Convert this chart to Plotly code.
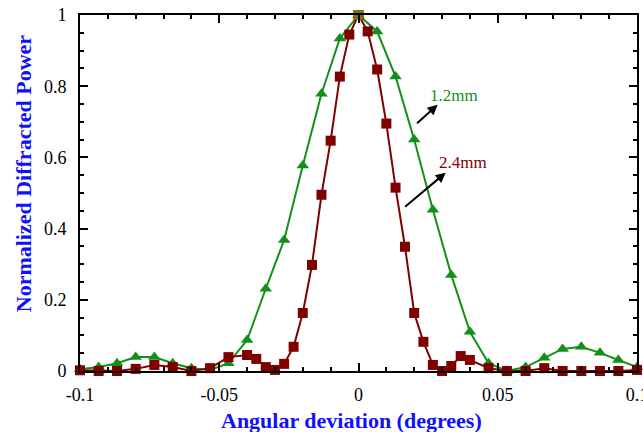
import plotly.graph_objects as go

# angular deviation (degrees)
x_red = [-0.1, -0.0933, -0.0867, -0.08, -0.0733, -0.0667, -0.06, -0.0533, -0.0467,
         -0.04, -0.0367, -0.0333, -0.03, -0.0267, -0.0233, -0.02, -0.0167, -0.0133,
         -0.01, -0.0067, -0.0033, 0.0, 0.0033, 0.0067, 0.01, 0.0133, 0.0167, 0.02,
         0.0233, 0.0267, 0.03, 0.0333, 0.0367, 0.04, 0.0467, 0.0533, 0.06, 0.0667,
         0.0733, 0.08, 0.0867, 0.0933, 0.1]
y_red = [0.002, 0.0, 0.0, 0.006, 0.017, 0.011, 0.0, 0.008, 0.039,
         0.045, 0.034, 0.011, 0.003, 0.020, 0.068, 0.163, 0.298, 0.495,
         0.647, 0.827, 0.945, 1.0, 0.954, 0.847, 0.695, 0.515, 0.349, 0.163,
         0.082, 0.017, 0.0, 0.014, 0.042, 0.031, 0.008, 0.0, 0.0, 0.008,
         0.0, 0.0, 0.0, 0.0, 0.003]

x_green = [-0.1, -0.0933, -0.0867, -0.08, -0.0733, -0.0667, -0.06, -0.0533, -0.0467,
           -0.04, -0.0333, -0.0267, -0.02, -0.0133, -0.0067, 0.0, 0.0067, 0.0133,
           0.02, 0.0267, 0.0333, 0.04, 0.0467, 0.0533, 0.06, 0.0667, 0.0733, 0.08,
           0.0867, 0.0933, 0.1]
y_green = [0.005, 0.011, 0.022, 0.039, 0.039, 0.022, 0.008, 0.003, 0.022,
           0.087, 0.231, 0.368, 0.577, 0.779, 0.934, 1.0, 0.954, 0.827,
           0.650, 0.453, 0.270, 0.110, 0.022, 0.0, 0.011, 0.037, 0.062, 0.068,
           0.051, 0.031, 0.011]

peak_x = [0.0]
peak_y = [1.0]

x_tickvals = [-0.1, -0.05, 0, 0.05, 0.1]
x_ticktext = ["-0.1", "-0.05", "0", "0.05", "0.1"]
y_tickvals = [0, 0.2, 0.4, 0.6, 0.8, 1]
y_ticktext = ["0", "0.2", "0.4", "0.6", "0.8", "1"]

GREEN = "#13901a"
RED = "#800000"
FONT = "Liberation Serif"

fig = go.Figure()
fig.add_trace(go.Scatter(
    x=x_green, y=y_green, mode="lines+markers", cliponaxis=False,
    line=dict(color=GREEN, width=2),
    marker=dict(symbol="triangle-up", size=11, color=GREEN),
    name="1.2mm"))
fig.add_trace(go.Scatter(
    x=x_red, y=y_red, mode="lines+markers", cliponaxis=False,
    line=dict(color=RED, width=2),
    marker=dict(symbol="square", size=10, color=RED),
    name="2.4mm"))
fig.add_trace(go.Scatter(
    x=peak_x, y=peak_y, mode="markers", cliponaxis=False,
    marker=dict(symbol="square", size=10, color="#8a6c14"),
    name="peak"))

axis_common = dict(
    showgrid=False, zeroline=False, showline=True, linecolor="black", linewidth=2,
    mirror="allticks", ticks="inside", ticklen=8, tickwidth=2, tickcolor="black",
    tickfont=dict(family=FONT, size=18, color="black"), automargin=False,
    ticklabeloverflow="allow",
)

fig.update_xaxes(range=[-0.1, 0.1], tickvals=x_tickvals, ticktext=x_ticktext,
                 minor=dict(dtick=0.01, ticks="inside", ticklen=4, tickwidth=2,
                            tickcolor="black"),
                 ticklabelstandoff=6, **axis_common)
fig.update_yaxes(range=[0, 1], tickvals=y_tickvals, ticktext=y_ticktext,
                 minor=dict(dtick=0.05, ticks="inside", ticklen=4, tickwidth=2,
                            tickcolor="black"),
                 ticklabelstandoff=8, **axis_common)

annotations = [
    dict(text="<b>Angular deviation (degrees)</b>", xref="paper", yref="paper",
         x=0.487, y=-0.140, showarrow=False, xanchor="center", yanchor="middle",
         font=dict(family=FONT, size=22, color="#1010ff")),
    dict(text="<b>Normalized Diffracted Power</b>", xref="paper", yref="paper",
         x=-0.102, y=0.556, showarrow=False, textangle=-90,
         xanchor="center", yanchor="middle",
         font=dict(family=FONT, size=22, color="#1010ff")),
    dict(text="1.2mm", x=0.0342, y=0.774, showarrow=False,
         font=dict(family=FONT, size=17, color=GREEN)),
    dict(text="2.4mm", x=0.0375, y=0.585, showarrow=False,
         font=dict(family=FONT, size=17, color=RED)),
    dict(text="", x=0.0284, y=0.748, ax=0.0205, ay=0.692, axref="x", ayref="y",
         showarrow=True, arrowhead=2, arrowsize=1, arrowwidth=2, arrowcolor="black"),
    dict(text="", x=0.0313, y=0.557, ax=0.0162, ay=0.458, axref="x", ayref="y",
         showarrow=True, arrowhead=2, arrowsize=1, arrowwidth=2, arrowcolor="black"),
]

fig.update_layout(
    width=643, height=432,
    margin=dict(l=80, r=6, t=15, b=61),
    paper_bgcolor="white", plot_bgcolor="white",
    showlegend=False,
    font=dict(family=FONT),
    annotations=annotations,
)

fig.write_html("out.html",
               config={"displayModeBar": False},
               post_script="document.body.style.margin='0px';"
                           "document.body.style.overflow='hidden';")
